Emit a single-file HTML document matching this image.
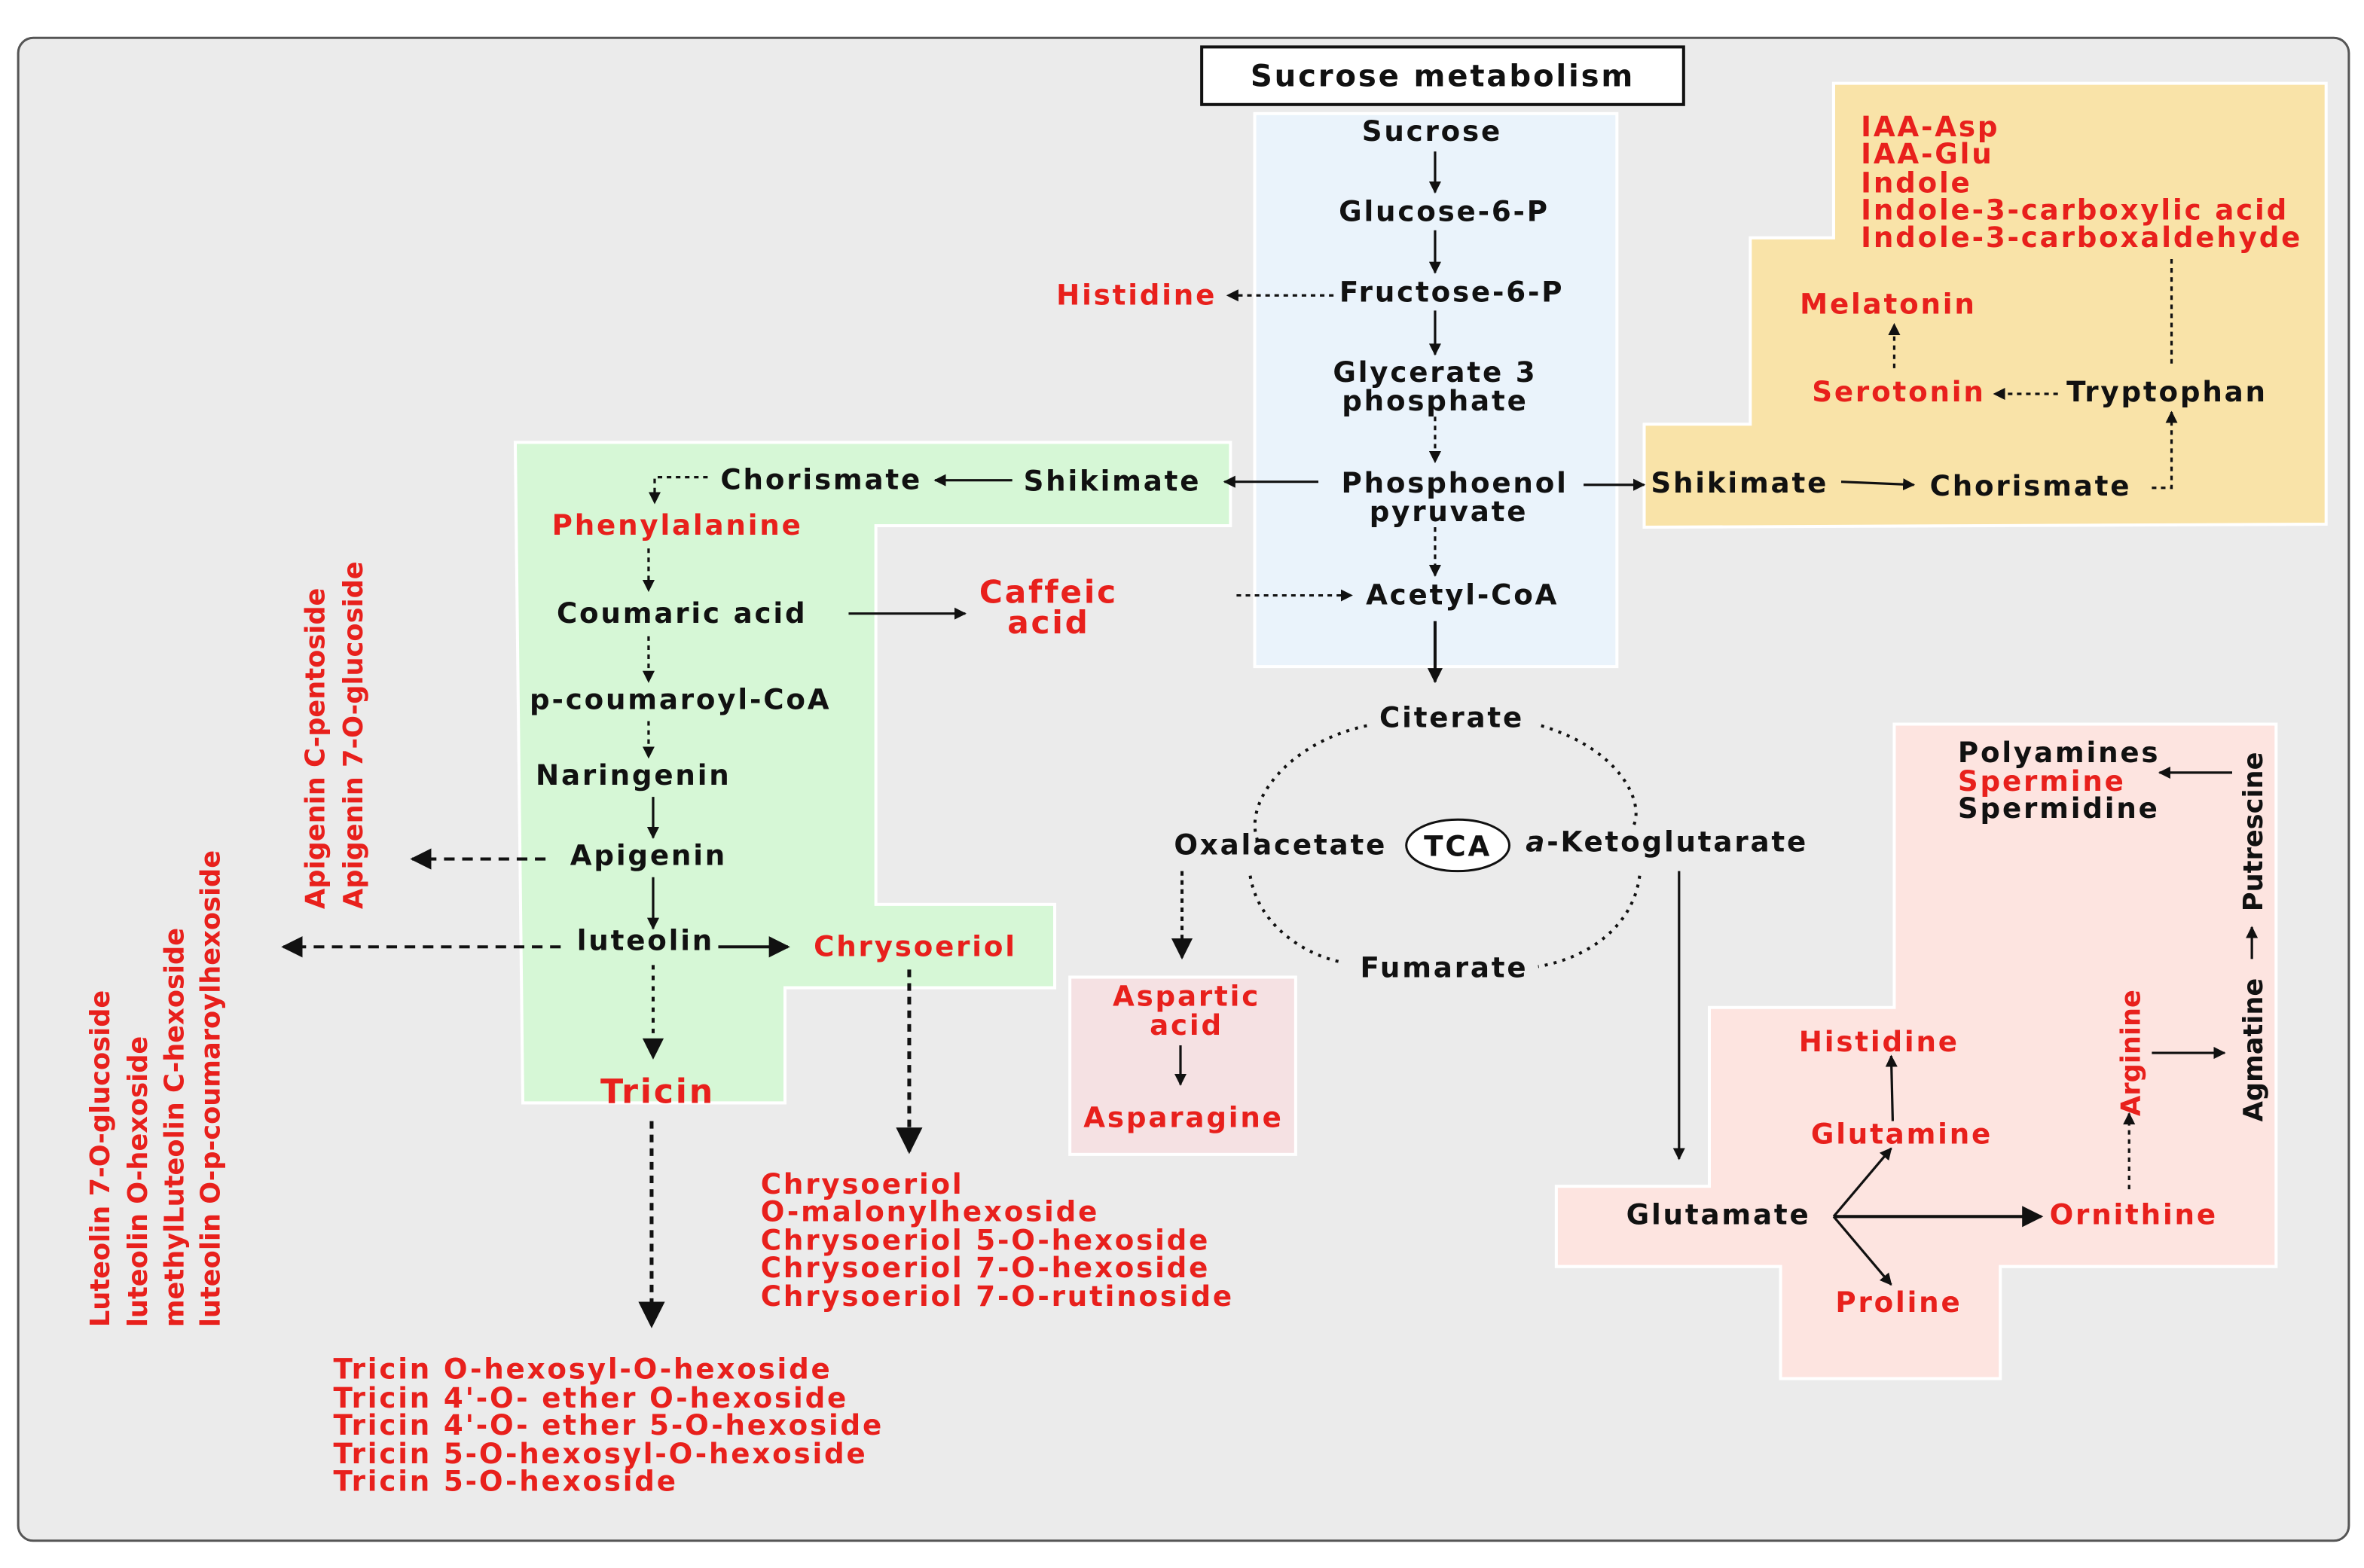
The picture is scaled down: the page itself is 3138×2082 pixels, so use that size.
<!DOCTYPE html>
<html><head><meta charset="utf-8"><style>
html,body{margin:0;padding:0;background:#fff}
svg{display:block}
text{font-family:"DejaVu Sans","Liberation Sans",sans-serif;font-size:18.5px;font-weight:bold;fill:#111;letter-spacing:1.4px}
.r{fill:#e8201c}
.m{text-anchor:middle}
.v{letter-spacing:0;font-size:17.5px}
</style></head><body>
<svg width="3138" height="2082" viewBox="0 0 1560 1035" preserveAspectRatio="none" xmlns="http://www.w3.org/2000/svg">
<defs>
<marker id="a" viewBox="0 0 10 10" refX="9" refY="5" markerWidth="7" markerHeight="7" orient="auto-start-reverse"><path d="M0,0L10,5L0,10z" fill="#111"/></marker>
<marker id="b" viewBox="0 0 10 10" refX="9" refY="5" markerWidth="5" markerHeight="5" orient="auto-start-reverse"><path d="M0,0L10,5L0,10z" fill="#111"/></marker>
</defs>
<rect x="12" y="25" width="1538" height="992" rx="10" fill="#ebebeb" stroke="#555" stroke-width="1.5"/>
<rect x="828" y="75" width="239" height="365" fill="#eaf3fb" stroke="#fff" stroke-width="2"/>
<polygon points="1210,55 1535,55 1535,346 1085,348 1085,280 1155,280 1155,157 1210,157" fill="#f9e3a8" stroke="#fff" stroke-width="2"/>
<polygon points="340,292 812,292 812,347 578,347 578,597 696,597 696,652 518,652 518,728 345,728" fill="#d6f7d6" stroke="#fff" stroke-width="2"/>
<rect x="706" y="645" width="149" height="117" fill="#f5e1e3" stroke="#fff" stroke-width="2"/>
<polygon points="1250,478 1502,478 1502,836 1320,836 1320,910 1175,910 1175,836 1027,836 1027,783 1128,783 1128,665 1250,665" fill="#fde4e0" stroke="#fff" stroke-width="2"/>
<rect x="793" y="31" width="318" height="38" fill="#fff" stroke="#111" stroke-width="2"/>
<text x="952" y="57" class="m" style="font-size:20px">Sucrose metabolism</text>

<g stroke="#111" stroke-width="1.6" fill="none">
<line x1="947" y1="100" x2="947" y2="127" marker-end="url(#b)"/>
<line x1="947" y1="152" x2="947" y2="180" marker-end="url(#b)"/>
<line x1="947" y1="205" x2="947" y2="234" marker-end="url(#b)"/>
<line x1="947" y1="275" x2="947" y2="305" stroke-dasharray="3,3" marker-end="url(#b)"/>
<line x1="947" y1="348" x2="947" y2="380" stroke-dasharray="3,3" marker-end="url(#b)"/>
<line x1="947" y1="410" x2="947" y2="450" stroke-width="2" marker-end="url(#b)"/>
<line x1="880" y1="195" x2="810" y2="195" stroke-dasharray="3,3" marker-end="url(#b)"/>
<line x1="870" y1="318" x2="808" y2="318" marker-end="url(#b)"/>
<line x1="668" y1="317" x2="617" y2="317" marker-end="url(#b)"/>
<path d="M467,315 L432,315 L432,332" stroke-dasharray="3,3" marker-end="url(#b)"/>
<line x1="816" y1="393" x2="892" y2="393" stroke-dasharray="3,3" marker-end="url(#b)"/>
<line x1="1045" y1="320" x2="1085" y2="320" marker-end="url(#b)"/>
<line x1="1215" y1="318" x2="1263" y2="320" marker-end="url(#b)"/>
<path d="M1420,322 L1433,322 L1433,272" stroke-dasharray="3,3" marker-end="url(#b)"/>
<line x1="1358" y1="260" x2="1316" y2="260" stroke-dasharray="3,3" marker-end="url(#b)"/>
<line x1="1250" y1="243" x2="1250" y2="214" stroke-dasharray="3,3" marker-end="url(#b)"/>
<line x1="1433" y1="240" x2="1433" y2="168" stroke-dasharray="3,3"/>
<line x1="428" y1="362" x2="428" y2="390" stroke-dasharray="3,3" marker-end="url(#b)"/>
<line x1="560" y1="405" x2="637" y2="405" marker-end="url(#b)"/>
<line x1="428" y1="420" x2="428" y2="450" stroke-dasharray="3,3" marker-end="url(#b)"/>
<line x1="428" y1="476" x2="428" y2="500" stroke-dasharray="3,3" marker-end="url(#b)"/>
<line x1="431" y1="526" x2="431" y2="553" marker-end="url(#b)"/>
<line x1="431" y1="579" x2="431" y2="613" marker-end="url(#b)"/>
<line x1="474" y1="625" x2="520" y2="625" stroke-width="2" marker-end="url(#a)"/>
<line x1="431" y1="637" x2="431" y2="698" stroke-width="2" stroke-dasharray="3,4" marker-end="url(#a)"/>
<line x1="360" y1="567" x2="272" y2="567" stroke-width="2" stroke-dasharray="7,5" marker-end="url(#a)"/>
<line x1="370" y1="625" x2="187" y2="625" stroke-width="2" stroke-dasharray="7,5" marker-end="url(#a)"/>
<line x1="600" y1="640" x2="600" y2="760" stroke-width="2.5" stroke-dasharray="5,4" marker-end="url(#a)"/>
<line x1="430" y1="740" x2="430" y2="875" stroke-width="2.5" stroke-dasharray="5,4" marker-end="url(#a)"/>
<line x1="780" y1="575" x2="780" y2="632" stroke-width="2" stroke-dasharray="3,3" marker-end="url(#a)"/>
<line x1="779" y1="690" x2="779" y2="716" marker-end="url(#b)"/>
<path d="M902,479 C850,490 820,530 830,555" stroke-dasharray="2,4" stroke-width="2"/>
<path d="M1017,479 C1070,495 1085,530 1078,545" stroke-dasharray="2,4" stroke-width="2"/>
<path d="M825,578 C830,610 860,630 885,635" stroke-dasharray="2,4" stroke-width="2"/>
<path d="M1082,578 C1078,610 1050,632 1015,638" stroke-dasharray="2,4" stroke-width="2"/>
<line x1="1108" y1="575" x2="1108" y2="765" marker-end="url(#b)"/>
<line x1="1210" y1="803" x2="1347" y2="803" stroke-width="2" marker-end="url(#a)"/>
<line x1="1210" y1="803" x2="1248" y2="758" marker-end="url(#b)"/>
<line x1="1210" y1="803" x2="1248" y2="848" marker-end="url(#b)"/>
<line x1="1249" y1="740" x2="1248" y2="697" marker-end="url(#b)"/>
<line x1="1405" y1="785" x2="1405" y2="735" stroke-dasharray="3,3" marker-end="url(#b)"/>
<line x1="1420" y1="695" x2="1468" y2="695" marker-end="url(#b)"/>
<line x1="1486" y1="633" x2="1486" y2="612" marker-end="url(#b)"/>
<line x1="1473" y1="510" x2="1425" y2="510" marker-end="url(#b)"/>
</g>
<ellipse cx="962" cy="558" rx="34" ry="17" fill="#fff" stroke="#111" stroke-width="1.5"/>
<text x="962" y="565" class="m">TCA</text>

<text x="945" y="93" class="m">Sucrose</text>
<text x="953" y="146" class="m">Glucose-6-P</text>
<text x="958" y="199" class="m">Fructose-6-P</text>
<text x="947" y="252" class="m">Glycerate 3</text>
<text x="947" y="271" class="m">phosphate</text>
<text x="960" y="325" class="m">Phosphoenol</text>
<text x="956" y="344" class="m">pyruvate</text>
<text x="965" y="399" class="m">Acetyl-CoA</text>
<text x="958" y="480" class="m">Citerate</text>
<text x="845" y="564" class="m">Oxalacetate</text>
<text x="1100" y="562" class="m"><tspan font-style="italic">a</tspan>-Ketoglutarate</text>
<text x="953" y="645" class="m">Fumarate</text>
<text x="750" y="201" class="m r">Histidine</text>

<text x="1228" y="90" class="r">IAA-Asp</text>
<text x="1228" y="108" class="r">IAA-Glu</text>
<text x="1228" y="127" class="r">Indole</text>
<text x="1228" y="145" class="r">Indole-3-carboxylic acid</text>
<text x="1228" y="163" class="r">Indole-3-carboxaldehyde</text>
<text x="1246" y="207" class="m r">Melatonin</text>
<text x="1253" y="265" class="m r">Serotonin</text>
<text x="1430" y="265" class="m">Tryptophan</text>
<text x="1148" y="325" class="m">Shikimate</text>
<text x="1340" y="327" class="m">Chorismate</text>

<text x="542" y="323" class="m">Chorismate</text>
<text x="734" y="324" class="m">Shikimate</text>
<text x="447" y="353" class="m r">Phenylalanine</text>
<text x="450" y="411" class="m">Coumaric  acid</text>
<text x="692" y="398" class="m r" style="font-size:21px">Caffeic</text>
<text x="692" y="418" class="m r" style="font-size:21px">acid</text>
<text x="449" y="468" class="m">p-coumaroyl-CoA</text>
<text x="418" y="518" class="m">Naringenin</text>
<text x="428" y="571" class="m">Apigenin</text>
<text x="426" y="627" class="m">luteolin</text>
<text x="604" y="631" class="m r">Chrysoeriol</text>
<text x="434" y="728" class="m r" style="font-size:22px">Tricin</text>

<text transform="translate(214,600) rotate(-90)" class="r v">Apigenin C-pentoside</text>
<text transform="translate(239,600) rotate(-90)" class="r v">Apigenin 7-O-glucoside</text>
<text transform="translate(72,876) rotate(-90)" class="r v">Luteolin 7-O-glucoside</text>
<text transform="translate(97,876) rotate(-90)" class="r v">luteolin O-hexoside</text>
<text transform="translate(121,876) rotate(-90)" class="r v">methylLuteolin C-hexoside</text>
<text transform="translate(145,876) rotate(-90)" class="r v">luteolin O-p-coumaroylhexoside</text>

<text x="502" y="788" class="r">Chrysoeriol</text>
<text x="502" y="806" class="r">O-malonylhexoside</text>
<text x="502" y="825" class="r">Chrysoeriol 5-O-hexoside</text>
<text x="502" y="843" class="r">Chrysoeriol 7-O-hexoside</text>
<text x="502" y="862" class="r">Chrysoeriol 7-O-rutinoside</text>

<text x="220" y="910" class="r">Tricin O-hexosyl-O-hexoside</text>
<text x="220" y="929" class="r">Tricin 4'-O- ether O-hexoside</text>
<text x="220" y="947" class="r">Tricin 4'-O- ether 5-O-hexoside</text>
<text x="220" y="966" class="r">Tricin 5-O-hexosyl-O-hexoside</text>
<text x="220" y="984" class="r">Tricin 5-O-hexoside</text>

<text x="783" y="664" class="m r">Aspartic</text>
<text x="783" y="683" class="m r">acid</text>
<text x="781" y="744" class="m r">Asparagine</text>

<text x="1292" y="503">Polyamines</text>
<text x="1292" y="522" class="r">Spermine</text>
<text x="1292" y="540">Spermidine</text>
<text transform="translate(1493,549) rotate(-90)" class="m v">Putrescine</text>
<text transform="translate(1493,693) rotate(-90)" class="m v">Agmatine</text>
<text transform="translate(1412,695) rotate(-90)" class="m r v">Arginine</text>
<text x="1240" y="694" class="m r">Histidine</text>
<text x="1255" y="755" class="m r">Glutamine</text>
<text x="1134" y="808" class="m">Glutamate</text>
<text x="1408" y="808" class="m r">Ornithine</text>
<text x="1253" y="866" class="m r">Proline</text>
</svg>
</body></html>
